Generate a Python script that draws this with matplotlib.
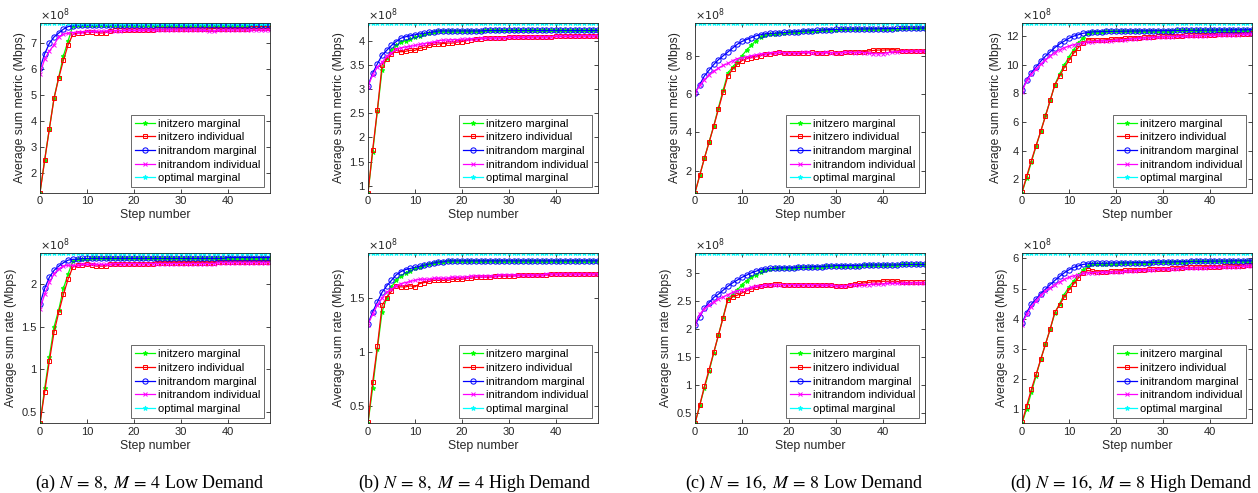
import numpy as np
import matplotlib
matplotlib.use("Agg")
import matplotlib.pyplot as plt
from matplotlib.ticker import FormatStrFormatter

# Data (units of 1e8 Mbps), steps 0..49
steps = list(range(50))

# (a) N=8, M=4 low demand - sum metric
zm_a = [1.22, 2.50, 3.70, 4.90, 5.70, 6.52, 7.10, 7.68, 7.70, 7.70,
        7.70, 7.70, 7.71, 7.71, 7.71, 7.71, 7.71, 7.71, 7.71, 7.71,
        7.71, 7.71, 7.72, 7.72, 7.72, 7.72, 7.72, 7.72, 7.72, 7.72,
        7.72, 7.72, 7.72, 7.72, 7.72, 7.72, 7.72, 7.72, 7.72, 7.72,
        7.72, 7.72, 7.72, 7.72, 7.72, 7.72, 7.72, 7.72, 7.72, 7.72]
zi_a = [1.22, 2.48, 3.70, 4.88, 5.67, 6.35, 6.95, 7.35, 7.40, 7.42,
        7.45, 7.43, 7.42, 7.40, 7.42, 7.48, 7.50, 7.50, 7.51, 7.51,
        7.50, 7.51, 7.51, 7.52, 7.53, 7.54, 7.54, 7.55, 7.55, 7.55,
        7.56, 7.56, 7.56, 7.55, 7.56, 7.56, 7.56, 7.57, 7.57, 7.57,
        7.57, 7.57, 7.57, 7.57, 7.57, 7.58, 7.58, 7.58, 7.58, 7.58]
rm_a = [6.05, 6.60, 7.00, 7.25, 7.40, 7.55, 7.65, 7.68, 7.70, 7.70,
        7.70, 7.70, 7.71, 7.71, 7.71, 7.71, 7.71, 7.71, 7.71, 7.71,
        7.71, 7.71, 7.72, 7.72, 7.72, 7.72, 7.72, 7.72, 7.72, 7.72,
        7.72, 7.72, 7.72, 7.72, 7.72, 7.72, 7.72, 7.72, 7.72, 7.72,
        7.72, 7.72, 7.72, 7.72, 7.72, 7.72, 7.72, 7.72, 7.72, 7.72]
ri_a = [5.82, 6.40, 6.70, 6.95, 7.25, 7.35, 7.40, 7.42, 7.43, 7.45,
        7.46, 7.46, 7.47, 7.47, 7.48, 7.48, 7.49, 7.49, 7.50, 7.50,
        7.50, 7.50, 7.51, 7.51, 7.51, 7.52, 7.52, 7.52, 7.52, 7.52,
        7.52, 7.52, 7.52, 7.52, 7.51, 7.50, 7.49, 7.48, 7.50, 7.51,
        7.52, 7.52, 7.52, 7.52, 7.52, 7.52, 7.52, 7.52, 7.52, 7.52]
opt_a = 7.80

# (b) N=8, M=4 high demand - sum metric
zm_b = [0.86, 1.70, 2.55, 3.40, 3.65, 3.80, 3.90, 3.97, 4.00, 4.03,
        4.07, 4.10, 4.13, 4.15, 4.17, 4.19, 4.20, 4.20, 4.20, 4.20,
        4.20, 4.20, 4.20, 4.20, 4.20, 4.21, 4.21, 4.21, 4.21, 4.21,
        4.21, 4.21, 4.21, 4.21, 4.21, 4.21, 4.21, 4.21, 4.21, 4.21,
        4.21, 4.21, 4.21, 4.21, 4.21, 4.21, 4.21, 4.21, 4.21, 4.21]
zi_b = [0.86, 1.75, 2.57, 3.50, 3.62, 3.72, 3.80, 3.77, 3.78, 3.80,
        3.80, 3.84, 3.86, 3.90, 3.92, 3.93, 3.94, 3.95, 3.95, 3.97,
        3.98, 4.00, 4.02, 4.03, 4.04, 4.05, 4.05, 4.06, 4.06, 4.06,
        4.07, 4.07, 4.07, 4.07, 4.07, 4.08, 4.08, 4.08, 4.08, 4.08,
        4.09, 4.09, 4.09, 4.09, 4.09, 4.10, 4.10, 4.10, 4.10, 4.10]
rm_b = [3.07, 3.33, 3.52, 3.70, 3.80, 3.90, 3.98, 4.05, 4.08, 4.10,
        4.12, 4.14, 4.15, 4.17, 4.18, 4.20, 4.20, 4.20, 4.20, 4.20,
        4.20, 4.20, 4.20, 4.20, 4.20, 4.21, 4.21, 4.21, 4.21, 4.21,
        4.21, 4.21, 4.21, 4.21, 4.21, 4.21, 4.21, 4.21, 4.21, 4.21,
        4.21, 4.21, 4.21, 4.21, 4.21, 4.21, 4.21, 4.21, 4.21, 4.21]
ri_b = [3.05, 3.30, 3.45, 3.55, 3.68, 3.75, 3.82, 3.85, 3.87, 3.88,
        3.90, 3.92, 3.94, 3.96, 3.97, 4.00, 4.01, 4.01, 4.02, 4.02,
        4.03, 4.03, 4.04, 4.04, 4.05, 4.05, 4.05, 4.06, 4.06, 4.06,
        4.07, 4.07, 4.07, 4.07, 4.07, 4.08, 4.08, 4.08, 4.08, 4.08,
        4.09, 4.09, 4.09, 4.09, 4.09, 4.10, 4.10, 4.10, 4.10, 4.10]
opt_b = 4.37

# (c) N=16, M=8 low demand - sum metric
zm_c = [0.85, 1.75, 2.65, 3.50, 4.35, 5.30, 6.20, 7.10, 7.40, 7.70,
        8.00, 8.30, 8.55, 8.80, 9.00, 9.10, 9.13, 9.16, 9.18, 9.20,
        9.22, 9.24, 9.26, 9.28, 9.30, 9.31, 9.32, 9.34, 9.35, 9.36,
        9.37, 9.38, 9.38, 9.39, 9.39, 9.40, 9.40, 9.40, 9.41, 9.41,
        9.41, 9.42, 9.42, 9.42, 9.43, 9.43, 9.44, 9.44, 9.45, 9.45]
zi_c = [0.85, 1.75, 2.65, 3.48, 4.33, 5.22, 6.10, 6.95, 7.30, 7.55,
        7.75, 7.85, 7.90, 7.95, 8.00, 8.10, 8.12, 8.15, 8.18, 8.15,
        8.17, 8.15, 8.13, 8.15, 8.17, 8.18, 8.17, 8.15, 8.17, 8.18,
        8.15, 8.17, 8.18, 8.20, 8.20, 8.20, 8.22, 8.25, 8.28, 8.30,
        8.30, 8.31, 8.32, 8.30, 8.27, 8.26, 8.25, 8.25, 8.25, 8.26]
rm_c = [6.05, 6.50, 6.95, 7.25, 7.55, 7.80, 8.00, 8.20, 8.40, 8.60,
        8.75, 8.85, 8.95, 9.05, 9.10, 9.15, 9.17, 9.18, 9.20, 9.22,
        9.23, 9.25, 9.27, 9.29, 9.30, 9.32, 9.33, 9.34, 9.36, 9.37,
        9.38, 9.38, 9.39, 9.39, 9.40, 9.40, 9.40, 9.41, 9.41, 9.41,
        9.42, 9.42, 9.42, 9.43, 9.43, 9.44, 9.44, 9.44, 9.45, 9.45]
ri_c = [6.05, 6.45, 6.75, 7.00, 7.20, 7.35, 7.50, 7.60, 7.75, 7.85,
        7.90, 7.95, 8.00, 8.05, 8.10, 8.12, 8.15, 8.17, 8.18, 8.17,
        8.16, 8.17, 8.17, 8.18, 8.18, 8.17, 8.16, 8.17, 8.18, 8.17,
        8.16, 8.17, 8.18, 8.18, 8.17, 8.18, 8.17, 8.15, 8.12, 8.10,
        8.12, 8.16, 8.20, 8.22, 8.23, 8.24, 8.24, 8.25, 8.25, 8.25]
opt_c = 9.73

# (d) N=16, M=8 high demand - sum metric
zm_d = [1.05, 2.10, 3.20, 4.30, 5.35, 6.45, 7.50, 8.60, 9.35, 9.95,
        10.55, 11.05, 11.50, 11.90, 12.20, 12.30, 12.31, 12.32, 12.33, 12.33,
        12.34, 12.34, 12.35, 12.35, 12.36, 12.36, 12.37, 12.37, 12.38, 12.38,
        12.38, 12.39, 12.39, 12.40, 12.40, 12.40, 12.41, 12.41, 12.41, 12.42,
        12.42, 12.42, 12.43, 12.43, 12.43, 12.44, 12.44, 12.44, 12.45, 12.45]
zi_d = [1.10, 2.20, 3.30, 4.35, 5.35, 6.40, 7.50, 8.60, 9.20, 9.80,
        10.30, 10.80, 11.20, 11.50, 11.75, 11.72, 11.70, 11.72, 11.75, 11.78,
        11.80, 11.82, 11.84, 11.86, 11.88, 11.90, 11.92, 11.94, 11.96, 11.98,
        12.00, 12.01, 12.02, 12.03, 12.04, 12.05, 12.06, 12.07, 12.08, 12.09,
        12.10, 12.11, 12.12, 12.13, 12.14, 12.15, 12.16, 12.17, 12.18, 12.20]
rm_d = [8.20, 8.95, 9.45, 9.85, 10.25, 10.60, 10.90, 11.20, 11.45, 11.65,
        11.85, 12.00, 12.10, 12.20, 12.25, 12.30, 12.31, 12.32, 12.33, 12.33,
        12.34, 12.34, 12.35, 12.35, 12.36, 12.36, 12.37, 12.37, 12.38, 12.38,
        12.38, 12.39, 12.39, 12.40, 12.40, 12.40, 12.41, 12.41, 12.41, 12.42,
        12.42, 12.42, 12.43, 12.43, 12.43, 12.44, 12.44, 12.44, 12.45, 12.45]
ri_d = [8.10, 8.90, 9.35, 9.70, 10.05, 10.35, 10.60, 10.85, 11.05, 11.20,
        11.30, 11.40, 11.48, 11.55, 11.60, 11.62, 11.64, 11.66, 11.68, 11.69,
        11.70, 11.73, 11.76, 11.79, 11.82, 11.85, 11.87, 11.89, 11.91, 11.93,
        11.95, 11.96, 11.97, 11.98, 11.99, 12.00, 12.01, 12.02, 12.03, 12.04,
        12.05, 12.06, 12.07, 12.08, 12.09, 12.10, 12.11, 12.12, 12.13, 12.15]
opt_d = 12.94

# (a) N=8, M=4 low demand - sum rate
zm_e = [0.37, 0.78, 1.15, 1.50, 1.70, 1.95, 2.12, 2.27, 2.29, 2.29,
        2.29, 2.30, 2.30, 2.30, 2.30, 2.30, 2.30, 2.30, 2.30, 2.30,
        2.30, 2.30, 2.30, 2.30, 2.30, 2.30, 2.30, 2.30, 2.30, 2.30,
        2.30, 2.30, 2.30, 2.30, 2.30, 2.30, 2.30, 2.30, 2.30, 2.30,
        2.31, 2.31, 2.31, 2.31, 2.31, 2.31, 2.31, 2.31, 2.31, 2.31]
zi_e = [0.37, 0.74, 1.10, 1.44, 1.67, 1.88, 2.06, 2.20, 2.22, 2.22,
        2.23, 2.22, 2.21, 2.21, 2.21, 2.23, 2.23, 2.23, 2.24, 2.24,
        2.24, 2.24, 2.24, 2.24, 2.24, 2.25, 2.25, 2.25, 2.25, 2.25,
        2.25, 2.25, 2.25, 2.25, 2.25, 2.25, 2.25, 2.25, 2.26, 2.26,
        2.26, 2.26, 2.26, 2.26, 2.26, 2.26, 2.26, 2.26, 2.26, 2.26]
rm_e = [1.77, 1.95, 2.08, 2.16, 2.21, 2.25, 2.28, 2.29, 2.29, 2.30,
        2.30, 2.30, 2.30, 2.30, 2.30, 2.30, 2.30, 2.30, 2.30, 2.30,
        2.30, 2.30, 2.30, 2.30, 2.30, 2.30, 2.30, 2.30, 2.30, 2.30,
        2.30, 2.30, 2.30, 2.30, 2.30, 2.30, 2.30, 2.30, 2.30, 2.30,
        2.31, 2.31, 2.31, 2.31, 2.31, 2.31, 2.31, 2.31, 2.31, 2.31]
ri_e = [1.71, 1.88, 2.02, 2.12, 2.18, 2.21, 2.22, 2.22, 2.22, 2.23,
        2.23, 2.23, 2.23, 2.23, 2.23, 2.23, 2.24, 2.24, 2.24, 2.24,
        2.24, 2.24, 2.24, 2.24, 2.24, 2.24, 2.24, 2.24, 2.24, 2.24,
        2.24, 2.24, 2.24, 2.24, 2.24, 2.24, 2.24, 2.24, 2.25, 2.25,
        2.25, 2.25, 2.25, 2.25, 2.25, 2.25, 2.25, 2.25, 2.25, 2.25]
opt_e = 2.36

# (b) N=8, M=4 high demand - sum rate
zm_f = [0.34, 0.67, 1.03, 1.37, 1.50, 1.60, 1.66, 1.70, 1.73, 1.75,
        1.77, 1.78, 1.80, 1.81, 1.82, 1.83, 1.83, 1.84, 1.84, 1.84,
        1.84, 1.84, 1.84, 1.84, 1.84, 1.84, 1.84, 1.84, 1.84, 1.84,
        1.84, 1.84, 1.84, 1.84, 1.84, 1.84, 1.84, 1.84, 1.84, 1.84,
        1.84, 1.84, 1.84, 1.84, 1.84, 1.84, 1.84, 1.84, 1.84, 1.84]
zi_f = [0.35, 0.72, 1.05, 1.43, 1.50, 1.56, 1.61, 1.60, 1.60, 1.61,
        1.60, 1.63, 1.64, 1.65, 1.66, 1.66, 1.66, 1.66, 1.67, 1.67,
        1.67, 1.68, 1.68, 1.69, 1.69, 1.69, 1.69, 1.70, 1.70, 1.70,
        1.70, 1.70, 1.71, 1.71, 1.71, 1.71, 1.71, 1.71, 1.71, 1.72,
        1.72, 1.72, 1.72, 1.72, 1.72, 1.72, 1.72, 1.72, 1.72, 1.72]
rm_f = [1.26, 1.37, 1.46, 1.55, 1.61, 1.66, 1.71, 1.74, 1.76, 1.77,
        1.78, 1.79, 1.80, 1.81, 1.82, 1.83, 1.83, 1.84, 1.84, 1.84,
        1.84, 1.84, 1.84, 1.84, 1.84, 1.84, 1.84, 1.84, 1.84, 1.84,
        1.84, 1.84, 1.84, 1.84, 1.84, 1.84, 1.84, 1.84, 1.84, 1.84,
        1.84, 1.84, 1.84, 1.84, 1.84, 1.84, 1.84, 1.84, 1.84, 1.84]
ri_f = [1.25, 1.35, 1.43, 1.50, 1.55, 1.58, 1.61, 1.63, 1.64, 1.65,
        1.66, 1.67, 1.67, 1.67, 1.68, 1.68, 1.68, 1.68, 1.69, 1.69,
        1.69, 1.69, 1.70, 1.70, 1.70, 1.70, 1.70, 1.70, 1.71, 1.71,
        1.71, 1.71, 1.71, 1.71, 1.71, 1.71, 1.71, 1.71, 1.72, 1.72,
        1.72, 1.72, 1.72, 1.72, 1.72, 1.72, 1.72, 1.72, 1.72, 1.72]
opt_f = 1.91

# (c) N=16, M=8 low demand - sum rate
zm_g = [0.32, 0.64, 0.95, 1.25, 1.58, 1.90, 2.22, 2.55, 2.62, 2.70,
        2.80, 2.87, 2.93, 2.98, 3.03, 3.07, 3.08, 3.09, 3.09, 3.10,
        3.10, 3.10, 3.11, 3.11, 3.11, 3.12, 3.12, 3.12, 3.13, 3.13,
        3.14, 3.14, 3.14, 3.14, 3.14, 3.14, 3.15, 3.15, 3.15, 3.15,
        3.15, 3.15, 3.15, 3.15, 3.16, 3.16, 3.16, 3.16, 3.16, 3.16]
zi_g = [0.32, 0.64, 0.98, 1.28, 1.59, 1.90, 2.21, 2.53, 2.58, 2.61,
        2.65, 2.69, 2.72, 2.75, 2.77, 2.79, 2.80, 2.81, 2.81, 2.80,
        2.80, 2.80, 2.79, 2.80, 2.80, 2.80, 2.79, 2.79, 2.79, 2.79,
        2.78, 2.77, 2.78, 2.80, 2.81, 2.82, 2.83, 2.84, 2.85, 2.85,
        2.86, 2.86, 2.86, 2.86, 2.85, 2.84, 2.84, 2.84, 2.84, 2.84]
rm_g = [2.08, 2.22, 2.38, 2.48, 2.57, 2.63, 2.70, 2.77, 2.83, 2.88,
        2.93, 2.97, 3.01, 3.04, 3.07, 3.08, 3.09, 3.09, 3.10, 3.10,
        3.10, 3.10, 3.11, 3.11, 3.11, 3.12, 3.12, 3.12, 3.13, 3.13,
        3.14, 3.14, 3.14, 3.14, 3.14, 3.14, 3.15, 3.15, 3.15, 3.15,
        3.15, 3.15, 3.15, 3.15, 3.16, 3.16, 3.16, 3.16, 3.16, 3.16]
ri_g = [2.10, 2.27, 2.37, 2.44, 2.49, 2.54, 2.58, 2.62, 2.66, 2.69,
        2.71, 2.73, 2.75, 2.77, 2.78, 2.79, 2.79, 2.80, 2.80, 2.80,
        2.80, 2.80, 2.80, 2.80, 2.80, 2.80, 2.80, 2.79, 2.79, 2.79,
        2.78, 2.77, 2.78, 2.79, 2.80, 2.80, 2.80, 2.80, 2.81, 2.81,
        2.81, 2.82, 2.82, 2.82, 2.82, 2.82, 2.83, 2.83, 2.83, 2.83]
opt_g = 3.36

# (d) N=16, M=8 high demand - sum rate
zm_h = [0.52, 1.00, 1.55, 2.10, 2.65, 3.15, 3.65, 4.18, 4.50, 4.80,
        5.05, 5.25, 5.45, 5.60, 5.75, 5.80, 5.82, 5.82, 5.83, 5.83,
        5.83, 5.84, 5.84, 5.84, 5.85, 5.85, 5.86, 5.86, 5.87, 5.87,
        5.88, 5.88, 5.88, 5.89, 5.89, 5.89, 5.90, 5.90, 5.90, 5.90,
        5.91, 5.91, 5.91, 5.91, 5.91, 5.92, 5.92, 5.92, 5.92, 5.92]
zi_h = [0.55, 1.10, 1.65, 2.15, 2.65, 3.15, 3.65, 4.22, 4.45, 4.72,
        4.95, 5.15, 5.35, 5.50, 5.60, 5.57, 5.55, 5.55, 5.55, 5.57,
        5.58, 5.59, 5.60, 5.61, 5.62, 5.62, 5.63, 5.64, 5.64, 5.65,
        5.65, 5.66, 5.67, 5.68, 5.69, 5.70, 5.70, 5.71, 5.71, 5.72,
        5.72, 5.73, 5.73, 5.74, 5.75, 5.75, 5.76, 5.76, 5.77, 5.78]
rm_h = [3.85, 4.20, 4.48, 4.65, 4.83, 4.98, 5.13, 5.27, 5.40, 5.52,
        5.62, 5.70, 5.75, 5.80, 5.82, 5.84, 5.84, 5.84, 5.84, 5.85,
        5.85, 5.85, 5.85, 5.85, 5.86, 5.86, 5.86, 5.86, 5.87, 5.87,
        5.88, 5.88, 5.88, 5.89, 5.89, 5.89, 5.90, 5.90, 5.90, 5.90,
        5.91, 5.91, 5.91, 5.91, 5.91, 5.92, 5.92, 5.92, 5.92, 5.92]
ri_h = [3.80, 4.15, 4.40, 4.60, 4.78, 4.92, 5.03, 5.13, 5.22, 5.30,
        5.37, 5.42, 5.46, 5.50, 5.52, 5.53, 5.53, 5.54, 5.54, 5.55,
        5.55, 5.56, 5.57, 5.58, 5.59, 5.60, 5.61, 5.62, 5.63, 5.64,
        5.65, 5.65, 5.66, 5.66, 5.67, 5.67, 5.68, 5.68, 5.69, 5.69,
        5.70, 5.70, 5.71, 5.71, 5.72, 5.72, 5.73, 5.74, 5.74, 5.75]
opt_h = 6.17

series_names = ["initzero marginal", "initzero individual", "initrandom marginal",
                "initrandom individual", "optimal marginal"]
captions = ["(a) $N\\,=\\,8,\\ M\\,=\\,4$ Low Demand", "(b) $N\\,=\\,8,\\ M\\,=\\,4$ High Demand",
            "(c) $N\\,=\\,16,\\ M\\,=\\,8$ Low Demand", "(d) $N\\,=\\,16,\\ M\\,=\\,8$ High Demand"]

panels = [
    (zm_a, zi_a, rm_a, ri_a, opt_a, [2, 3, 4, 5, 6, 7]),
    (zm_b, zi_b, rm_b, ri_b, opt_b, [1, 1.5, 2, 2.5, 3, 3.5, 4]),
    (zm_c, zi_c, rm_c, ri_c, opt_c, [2, 4, 6, 8]),
    (zm_d, zi_d, rm_d, ri_d, opt_d, [2, 4, 6, 8, 10, 12]),
    (zm_e, zi_e, rm_e, ri_e, opt_e, [0.5, 1, 1.5, 2]),
    (zm_f, zi_f, rm_f, ri_f, opt_f, [0.5, 1, 1.5]),
    (zm_g, zi_g, rm_g, ri_g, opt_g, [0.5, 1, 1.5, 2, 2.5, 3]),
    (zm_h, zi_h, rm_h, ri_h, opt_h, [1, 2, 3, 4, 5, 6]),
]

# Styling
plt.rcParams['font.family'] = ['Liberation Sans', 'DejaVu Sans']
plt.rcParams['mathtext.fontset'] = 'stix'
dark = '#262626'
styles = [
    dict(color=(0, 1, 0), marker='*', ms=3.5, mfc=(0, 1, 0)),
    dict(color=(1, 0, 0), marker='s', ms=3.2, mfc='none'),
    dict(color=(0, 0, 1), marker='o', ms=3.8, mfc='none'),
    dict(color=(1, 0, 1), marker='x', ms=3.2),
    dict(color=(0, 1, 1), marker='*', ms=3.5, mfc=(0, 1, 1)),
]

W, H = 1258, 493
fig = plt.figure(figsize=(W / 100, H / 100), dpi=100)

col_left = [40, 368, 695, 1022]
ax_w = 230
row_top = [22.7, 253.3]
ax_h = 170
cap_x = [150, 475, 804, 1131]

for i, (zm, zi, rm, ri, opt, yt) in enumerate(panels):
    r, c = divmod(i, 4)
    left = col_left[c] / W
    bottom = 1 - (row_top[r] + ax_h) / H
    ax = fig.add_axes([left, bottom, ax_w / W, ax_h / H])
    opt_line = np.full(len(steps), opt)
    for y, name, st in zip([zm, zi, rm, ri, opt_line], series_names, styles):
        ax.plot(steps, y, '-', lw=0.9, mew=0.7, label=name, **st)
    lo = min(min(zm), min(zi), min(rm), min(ri))
    ax.set_xlim(0, 49)
    ax.set_ylim(lo, opt)
    ax.set_xticks([0, 10, 20, 30, 40])
    ax.set_yticks(yt)
    ax.yaxis.set_major_formatter(FormatStrFormatter('%g'))
    ax.tick_params(direction='in', length=3, width=0.6, labelsize=8, colors=dark,
                   top=True, right=True, pad=2.5)
    for sp in ax.spines.values():
        sp.set_color(dark)
        sp.set_linewidth(0.6)
    ax.set_xlabel("Step number", fontsize=8.8, color=dark, labelpad=2)
    ax.set_ylabel("Average sum metric (Mbps)" if r == 0 else "Average sum rate (Mbps)",
                  fontsize=8.8, color=dark, labelpad=3)
    ax.text(0.0, 1.0, r"$\times 10^{8}$", transform=ax.transAxes, ha='left', va='bottom',
            fontsize=8, color=dark, family='DejaVu Sans',
            math_fontfamily='dejavusans')
    leg = ax.legend(loc='lower right', fontsize=8, frameon=True, fancybox=False,
                    borderpad=0.35, labelspacing=0.33, handlelength=1.8,
                    handletextpad=0.3, borderaxespad=0.5)
    leg.get_frame().set_edgecolor(dark)
    leg.get_frame().set_linewidth(0.6)
    for t in leg.get_texts():
        t.set_color('black')
    if r == 1:
        fig.text(cap_x[c] / W, 1 - 487.5 / H, captions[c], ha='center', va='baseline',
                 fontsize=13, family='Liberation Serif')

fig.savefig("out.png", dpi=100)
